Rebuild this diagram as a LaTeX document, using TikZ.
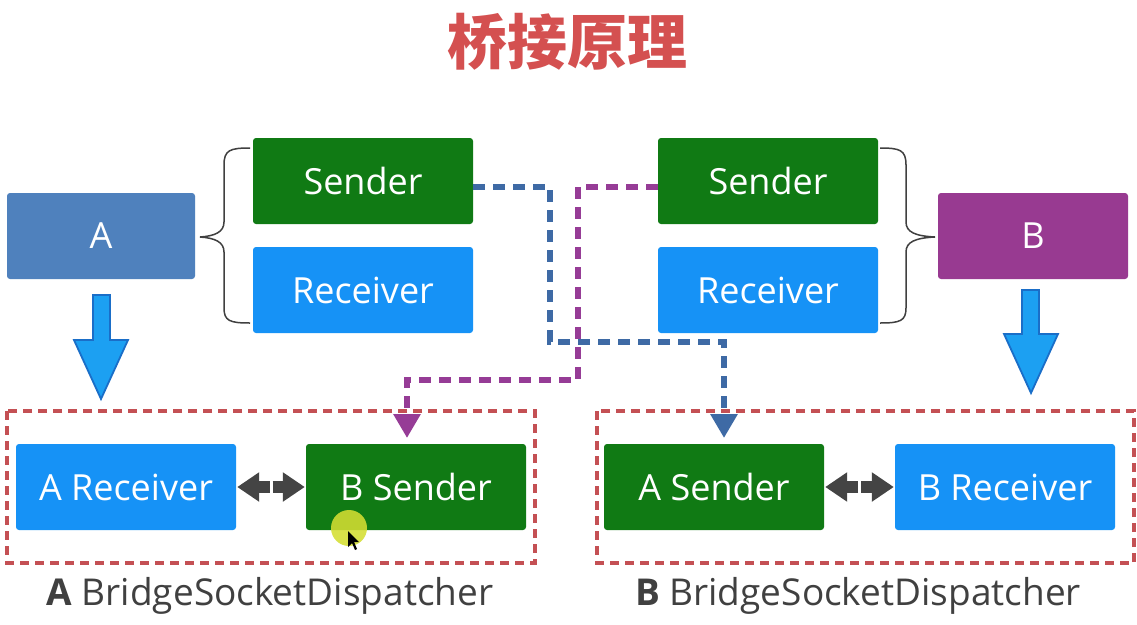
\documentclass[tikz,border=0pt]{standalone}
\usepackage{fontspec}
\setmainfont{Open Sans}
\newfontfamily\cjk{Noto Sans CJK SC}
\usetikzlibrary{arrows.meta,calc}
\definecolor{cA}{RGB}{79,129,189}
\definecolor{cB}{RGB}{152,58,145}
\definecolor{cG}{RGB}{16,122,20}
\definecolor{cL}{RGB}{22,146,246}
\definecolor{cT}{RGB}{212,80,80}
\definecolor{cLine}{RGB}{62,106,165}
\definecolor{cPur}{RGB}{150,60,150}
\definecolor{cRed}{RGB}{196,80,84}
\definecolor{cArr}{RGB}{28,160,242}
\definecolor{cArrB}{RGB}{26,110,200}
\definecolor{cGray}{RGB}{68,68,68}
\definecolor{cYel}{RGB}{212,222,50}
\begin{document}
\begin{tikzpicture}[x=1pt,y=-1pt,
  box/.style={rounded corners=3pt,minimum width=220pt,minimum height=86pt,text=white,inner sep=0pt,font=\fontsize{36}{42}\selectfont},
  dashline/.style={line width=6pt,dash pattern=on 12pt off 8pt},
  dashrect/.style={draw=cRed,line width=3.8pt,dash pattern=on 9pt off 6pt},
  gaparrow/.style={draw=cGray,line width=12pt,-{Triangle[width=28pt,length=22pt]},shorten >=1pt},
  blockarrow/.style={fill=cArr,draw=cArrB,line width=1.8pt,line join=miter},
  brace/.style={draw=black!75,line width=1.5pt},
  label/.style={text=black!75,font=\fontsize{37}{42}\selectfont}]
\useasboundingbox (0,0) rectangle (1137,624);
\fill[white] (0,0) rectangle (1137,624);
% title
\node[text=cT,font=\cjk\bfseries\fontsize{60}{66}\selectfont] (title) at (567,42) {桥接原理};
% top boxes
\node[box,fill=cA,minimum width=188pt] (A) at (101,236) {A};
\node[box,fill=cG] (ls) at (363,181) {Sender};
\node[box,fill=cL] (lr) at (363,290) {Receiver};
\node[box,fill=cG] (rs) at (768,181) {Sender};
\node[box,fill=cL] (rr) at (768,290) {Receiver};
\node[box,fill=cB,minimum width=190pt] (B) at (1033,236) {B};
% braces
\draw[brace] (250,148) .. controls (230,148) and (224,150) .. (224,165) -- (224,222)
  .. controls (224,232) and (215,236) .. (200,237)
  .. controls (215,238) and (224,242) .. (224,252) -- (224,308)
  .. controls (224,321) and (230,323) .. (250,323);
\draw[brace] (880,148) .. controls (900,148) and (906,150) .. (906,165) -- (906,222)
  .. controls (906,232) and (915,236) .. (935,237)
  .. controls (915,238) and (906,242) .. (906,252) -- (906,308)
  .. controls (906,321) and (900,323) .. (880,323);
% block arrows
\draw[blockarrow] (93,295) -- (110,295) -- (110,340) -- (128,340) -- (101,399) -- (74,340) -- (93,340) -- cycle;
\draw[blockarrow] (1022,290) -- (1039,290) -- (1039,334) -- (1058,334) -- (1031,393) -- (1004,334) -- (1022,334) -- cycle;
% dispatcher frames
\draw[dashrect] (7,411) rectangle (535,563);
\draw[dashrect] (597,411) rectangle (1134,563);
\node[box,fill=cL] (ar) at (126,487) {A Receiver};
\node[box,fill=cG] (bs) at (416,487) {B Sender};
\node[box,fill=cG] (as) at (714,487) {A Sender};
\node[box,fill=cL] (br) at (1005,487) {B Receiver};
\node[label] (la) at (270,596) {\textbf{A} BridgeSocketDispatcher};
\node[label] (lb) at (858,596) {\textbf{B} BridgeSocketDispatcher};
% double arrows with gap
\coordinate (m1) at ($(ar.east)!0.5!(bs.west)$);
\coordinate (m2) at ($(as.east)!0.5!(br.west)$);
\draw[gaparrow] ([xshift=-1.5pt]m1) -- (ar.east);
\draw[gaparrow] ([xshift=1.5pt]m1) -- (bs.west);
\draw[gaparrow] ([xshift=-1.5pt]m2) -- (as.east);
\draw[gaparrow] ([xshift=1.5pt]m2) -- (br.west);
% dashed connectors
\coordinate (b1) at (550,187);
\coordinate (b2) at (550,342);
\coordinate (b3) at (724,342);
\coordinate (b4) at (724,444);
\draw[dashline,draw=cLine,-{Triangle[width=26pt,length=24pt]},shorten >=6pt] ([yshift=-6pt]ls.east) -- (b1) -- (b2) -- (b3) -- (b4);
\coordinate (p1) at (578,187);
\coordinate (p2) at (578,380);
\coordinate (p3) at (407,380);
\coordinate (p4) at (407,444);
\draw[dashline,draw=cPur,-{Triangle[width=26pt,length=24pt]},shorten >=6pt] ([yshift=-6pt]rs.west) -- (p1) -- (p2) -- (p3) -- (p4);
% cursor highlight
\fill[cYel,opacity=0.88] (349,528) circle (18pt);
\fill[black] (348,531) -- (348,547) -- (352,543) -- (355,550) -- (357,549) -- (354,542) -- (359,542) -- cycle;
\end{tikzpicture}
\end{document}
